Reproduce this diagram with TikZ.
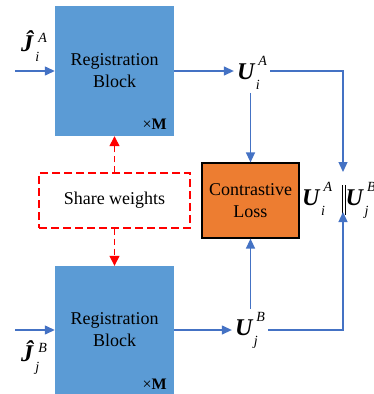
\documentclass[tikz,border=0pt]{standalone}
\usepackage{fontspec}
\setmainfont{Liberation Serif}
\usetikzlibrary{arrows.meta}
\definecolor{blockblue}{HTML}{5B9BD5}
\definecolor{linkblue}{HTML}{4472C4}
\definecolor{lossorange}{HTML}{ED7D31}
% #1 base, #2 sub, #3 sup, #4 sub kern, #5 sup kern, #6 sup raise
\newcommand{\gvar}[6]{{\fontsize{24}{28}\selectfont\textbf{\textit{#1}}\rlap{\kern#4\raisebox{-10pt}{\fontsize{14}{14}\selectfont\itshape #2}}\kern#5\raisebox{#6}{\fontsize{14}{14}\selectfont\itshape #3}}}
\newcommand{\uvar}[3]{\gvar{#1}{#2}{#3}{0.5pt}{3pt}{14pt}}
\newcommand{\jvar}[3]{\gvar{#1}{#2}{#3}{1pt}{4pt}{9pt}}
\newcommand{\dbar}{\kern9.5pt\rule[-10pt]{0.8pt}{30pt}\kern2.2pt\rule[-10pt]{0.8pt}{30pt}\kern0.3pt}
\begin{document}
\begin{tikzpicture}[x=1pt,y=-1pt,
  block/.style={fill=blockblue, draw=none, minimum width=119pt, align=center,
    font=\fontsize{18}{22}\selectfont, inner sep=0pt},
  timesm/.style={font=\fontsize{16}{16}\selectfont, inner sep=0pt, anchor=base east},
  link/.style={draw=linkblue, line width=1.3pt, -{Triangle[length=10pt,width=9pt]}},
  sharebox/.style={draw=red, line width=1.4pt, dash pattern=on 8pt off 4pt,
    minimum width=151pt, minimum height=55pt, font=\fontsize{18}{22}\selectfont},
  redlink/.style={draw=red, line width=1.4pt, dash pattern=on 6pt off 4pt,
    -{Triangle[length=10pt,width=10pt]}},
  lossbox/.style={draw=black, line width=1.2pt, fill=lossorange, minimum width=97pt,
    minimum height=75pt, align=center, font=\fontsize{18}{22}\selectfont},
  varlabel/.style={inner sep=3pt}]
\useasboundingbox (0,0) rectangle (374,394);
% blocks
\node[block, minimum height=130pt] (RA) at (114.5,71) {Registration\\Block};
\node[block, minimum height=128pt] (RB) at (114.5,330) {Registration\\Block};
\node[timesm] (MA) at (167,129) {×\textbf{M}};
\node[timesm] (MB) at (167,389) {×\textbf{M}};
% share weights
\node[sharebox] (SW) at (114.5,200.5) {Share weights};
\draw[redlink] (SW.north) -- (RA.south);
\draw[redlink] (SW.south) -- (RB.north);
% contrastive loss
\node[lossbox] (CL) at (250.5,200.5) {Contrastive\\Loss};
% inputs
\coordinate (inA) at (15,71);
\coordinate (inB) at (15,330);
\draw[link] (inA) -- (RA.west);
\draw[link] (inB) -- (RB.west);
\node[inner sep=0pt, anchor=base west] (JA) at (21,51) {\jvar{Ĵ}{i}{A}};
\node[inner sep=0pt, anchor=base west] (JB) at (21,361) {\jvar{Ĵ}{j}{B}};
% outputs
\node[varlabel] (UA) at (252,73) {\uvar{U}{i}{A}};
\node[varlabel] (UB) at (250,330) {\uvar{U}{j}{B}};
\draw[link] (RA.east) -- (UA.west |- RA.east);
\draw[link] (RB.east) -- (UB.west |- RB.east);
\draw[link] (UA.south -| CL.north) -- (CL.north);
\draw[link] (UB.north -| CL.south) -- (CL.south);
% concatenation
\node[inner sep=0pt, anchor=base west] (CC) at (302,205) {\uvar{U}{i}{A}\dbar\uvar{U}{j}{B}};
\coordinate (cctop) at (343,172);
\coordinate (ccbot) at (343,212);
\draw[link] (UA.east |- RA.east) -| (cctop);
\draw[link] (UB.east |- RB.east) -| (ccbot);
\end{tikzpicture}
\end{document}
